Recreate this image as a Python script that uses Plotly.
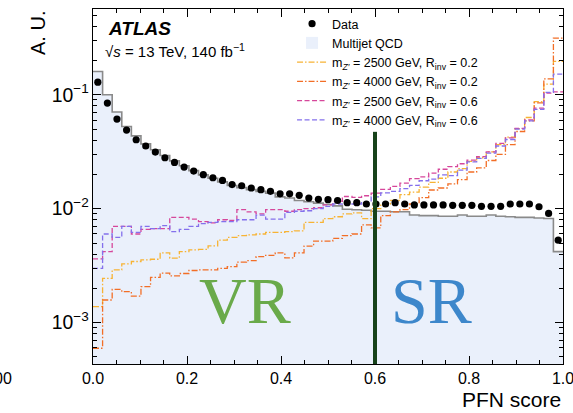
import numpy as np
import plotly.graph_objects as go

# ---------------- data ----------------
bin_edges = list(np.linspace(0.0, 1.0, 50))

data_vals = [0.129, 0.0845, 0.0612, 0.049, 0.0403, 0.0355, 0.0314, 0.028, 0.0255, 0.0232,
             0.0214, 0.0199, 0.0187, 0.0177, 0.0163, 0.0159, 0.0152, 0.0147, 0.0142, 0.0135,
             0.0135, 0.0131, 0.0124, 0.0121, 0.0120, 0.0118, 0.0113, 0.0113, 0.0110, 0.0110,
             0.0110, 0.0113, 0.0110, 0.0108, 0.0108, 0.0108, 0.0108, 0.0107, 0.0107, 0.0107,
             0.0105, 0.0105, 0.0105, 0.0110, 0.0110, 0.0110, 0.0104, 0.0091, 0.0053]

qcd_vals = [0.160, 0.100, 0.0705, 0.0527, 0.0436, 0.0371, 0.0329, 0.0293, 0.0263, 0.0238,
            0.0216, 0.0198, 0.0185, 0.0172, 0.0160, 0.0153, 0.0147, 0.0142, 0.0137, 0.0127,
            0.0124, 0.0118, 0.0115, 0.0112, 0.0109, 0.0106, 0.0099, 0.0098, 0.0097, 0.0095,
            0.0095, 0.0094, 0.0094, 0.0088, 0.0087, 0.0087, 0.0086, 0.0086, 0.0088, 0.0086,
            0.0086, 0.0088, 0.0086, 0.0085, 0.0084, 0.0084, 0.0083, 0.0082, 0.0042]

sig_2500_02 = [0.00138, 0.00245, 0.0029, 0.00328, 0.00344, 0.00356, 0.0036, 0.0041, 0.00368, 0.0042,
               0.00436, 0.0044, 0.00472, 0.0053, 0.0056, 0.0058, 0.0059, 0.0060, 0.0062, 0.0062,
               0.0063, 0.0064, 0.0076, 0.0076, 0.0082, 0.0085, 0.0090, 0.0092, 0.0082, 0.0100,
               0.0110, 0.0118, 0.0133, 0.0140, 0.0155, 0.0170, 0.0185, 0.0210, 0.0225, 0.0260,
               0.0280, 0.0315, 0.0365, 0.0425, 0.0505, 0.0632, 0.0870, 0.1240, 0.196]

sig_4000_02 = [0.000596, 0.00158, 0.00196, 0.00187, 0.00171, 0.00207, 0.0025, 0.00272, 0.00257, 0.0027,
               0.00287, 0.0029, 0.0029, 0.0030, 0.0031, 0.0034, 0.0035, 0.0038, 0.0039, 0.0041,
               0.0037, 0.0041, 0.0047, 0.0052, 0.0052, 0.0055, 0.0058, 0.0060, 0.0072, 0.0068,
               0.0087, 0.0094, 0.0098, 0.0110, 0.0125, 0.0146, 0.0152, 0.0165, 0.0180, 0.0210,
               0.0228, 0.0265, 0.0300, 0.0365, 0.0476, 0.0590, 0.0850, 0.1380, 0.314]

sig_2500_06 = [0.00363, 0.0042, 0.0070, 0.0070, 0.0060, 0.0066, 0.0067, 0.0067, 0.0084, 0.0084,
               0.0081, 0.0077, 0.0075, 0.0080, 0.0079, 0.0098, 0.0094, 0.0090, 0.0098, 0.0098,
               0.0095, 0.0098, 0.0100, 0.0102, 0.0108, 0.0116, 0.0128, 0.0126, 0.0130, 0.0137,
               0.0148, 0.0157, 0.0168, 0.0184, 0.0190, 0.0205, 0.0222, 0.0234, 0.0248, 0.0267,
               0.0287, 0.0315, 0.0374, 0.0418, 0.0508, 0.0602, 0.0762, 0.1035, 0.106]

sig_4000_06 = [0.0030, 0.0060, 0.0056, 0.0070, 0.0062, 0.0070, 0.0067, 0.0071, 0.0063, 0.0066,
               0.0070, 0.0074, 0.0076, 0.0077, 0.0077, 0.0080, 0.0080, 0.0088, 0.0081, 0.0081,
               0.0093, 0.0095, 0.0096, 0.0100, 0.0105, 0.0110, 0.0112, 0.0110, 0.0115, 0.0127,
               0.0138, 0.0142, 0.0150, 0.0160, 0.0176, 0.0182, 0.0198, 0.0195, 0.0218, 0.0258,
               0.0276, 0.0308, 0.0355, 0.0405, 0.0500, 0.0590, 0.0745, 0.1050, 0.152]

signal_names = ["m<sub><i>Z′</i></sub> = 2500 GeV, R<sub>inv</sub> = 0.2",
                "m<sub><i>Z′</i></sub> = 4000 GeV, R<sub>inv</sub> = 0.2",
                "m<sub><i>Z′</i></sub> = 2500 GeV, R<sub>inv</sub> = 0.6",
                "m<sub><i>Z′</i></sub> = 4000 GeV, R<sub>inv</sub> = 0.6"]

x_ticks = [0.0, 0.2, 0.4, 0.6, 0.8, 1.0]
cut_value = 0.6

# ---------------- figure ----------------
edges = np.array(bin_edges)
centers = 0.5 * (edges[:-1] + edges[1:])
width = edges[1] - edges[0]

FONT = "Liberation Sans, Arial, sans-serif"
fig = go.Figure()

fig.add_trace(go.Bar(x=centers, y=qcd_vals, width=width, name="Multijet QCD",
                     marker=dict(color="#EAF0FB", line=dict(width=0)), legendrank=2))
fig.add_trace(go.Scatter(x=edges, y=list(qcd_vals) + [qcd_vals[-1]], mode="lines",
                         line=dict(shape="hv", color="#8a8a8a", width=1.6),
                         showlegend=False, hoverinfo="skip"))

sig_series = [sig_2500_02, sig_4000_02, sig_2500_06, sig_4000_06]
sig_colors = ["#F7B334", "#F26E26", "#D6479B", "#8470EC"]
sig_dash = ["6px,2px,1.5px,2px", "6px,2px,1.5px,2px", "5px,2.5px", "5px,2.5px"]
for i, (vals, name, col, dsh) in enumerate(zip(sig_series, signal_names, sig_colors, sig_dash)):
    fig.add_trace(go.Scatter(x=edges, y=list(vals) + [vals[-1]], mode="lines", name=name,
                             line=dict(shape="hv", color=col, width=1.3, dash=dsh),
                             legendrank=3 + i))

fig.add_trace(go.Scatter(x=centers, y=data_vals, mode="markers", name="Data",
                         marker=dict(color="black", size=7.2), legendrank=1))

fig.add_shape(type="line", xref="x", yref="paper", x0=cut_value, x1=cut_value,
              y0=0, y1=0.654, line=dict(color="#17421a", width=4), layer="above")

fig.add_annotation(x=0.323, y=0.179, xref="x", yref="paper", text="VR", showarrow=False,
                   font=dict(family="Liberation Serif, serif", size=66, color="#6AAA4A"),
                   xanchor="center", yanchor="middle")
fig.add_annotation(x=0.720, y=0.179, xref="x", yref="paper", text="SR", showarrow=False,
                   font=dict(family="Liberation Serif, serif", size=66, color="#3D87CB"),
                   xanchor="center", yanchor="middle")

fig.add_annotation(x=0.027, y=0.944, xref="paper", yref="paper", text="<b><i>ATLAS</i></b>",
                   showarrow=False, xanchor="left", yanchor="middle",
                   font=dict(family=FONT, size=19, color="black"))
fig.add_annotation(x=0.021, y=0.884, xref="paper", yref="paper",
                   text="√<i>s</i> = 13 TeV, 140 fb<sup>−1</sup>",
                   showarrow=False, xanchor="left", yanchor="middle",
                   font=dict(family=FONT, size=15, color="black"))

fig.add_annotation(x=-0.117, y=1.0, xref="paper", yref="paper", text="A. U.", textangle=-90,
                   showarrow=False, xanchor="center", yanchor="top",
                   font=dict(family=FONT, size=20, color="black"))
fig.add_annotation(x=1.0, y=-0.101, xref="paper", yref="paper", text="PFN score",
                   showarrow=False, xanchor="right", yanchor="middle",
                   font=dict(family=FONT, size=21, color="black"))
fig.add_annotation(x=-0.168, y=-0.04, xref="paper", yref="paper", text="00",
                   showarrow=False, xanchor="right", yanchor="middle",
                   font=dict(family=FONT, size=16, color="black"))

fig.update_layout(
    width=573, height=413,
    margin=dict(l=93, r=10, t=9, b=49, autoexpand=False),
    paper_bgcolor="white", plot_bgcolor="white",
    bargap=0, barmode="overlay",
    font=dict(family=FONT, color="black"),
    legend=dict(x=0.4235, y=1.0, xanchor="left", yanchor="top", bgcolor="rgba(0,0,0,0)",
                font=dict(family=FONT, size=12.5, color="black"), tracegroupgap=0,
                traceorder="normal"),
)

fig.update_xaxes(range=[0, 1], tickvals=x_ticks, ticktext=[f"{v:.1f}" for v in x_ticks],
                 ticks="inside", ticklen=8, tickwidth=1.2, tickcolor="black",
                 ticklabeloverflow="allow", automargin=False,
                 minor=dict(dtick=0.05, tick0=0, ticks="inside", ticklen=4, tickcolor="black",
                            showgrid=False),
                 showline=True, linecolor="black", linewidth=1.3, mirror="allticks",
                 showgrid=False, zeroline=False, tickfont=dict(size=16, family=FONT))
fig.update_yaxes(type="log", range=[-3.3628, -0.2473], dtick=1, exponentformat="power",
                 ticks="inside", ticklen=8, tickwidth=1.2, tickcolor="black", automargin=False,
                 minor=dict(ticks="inside", ticklen=4, tickcolor="black", showgrid=False),
                 showline=True, linecolor="black", linewidth=1.3, mirror="allticks",
                 showgrid=False, zeroline=False, tickfont=dict(size=15.5, family=FONT))

fig.write_html("out.html", config={"displayModeBar": False},
               post_script="document.body.style.margin='0';document.body.style.padding='0';")
